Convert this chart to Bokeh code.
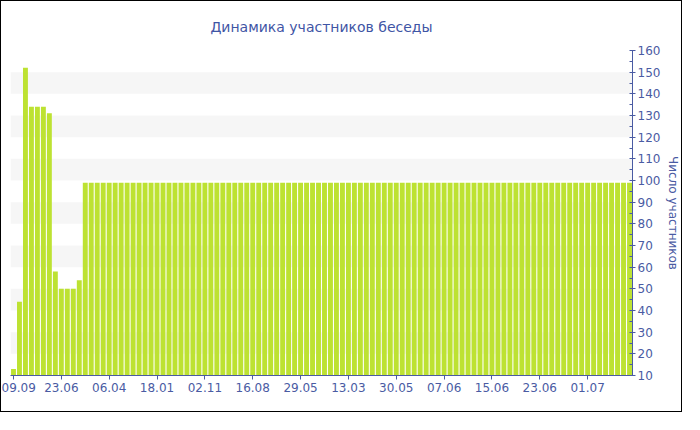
from bokeh.plotting import figure
from bokeh.models import Range1d, FixedTicker
from bokeh.embed import file_html
from bokeh.resources import INLINE

# Data
values = [13, 44, 152, 134, 134, 134, 131, 58, 50, 50, 50, 54] + [99] * 92
tick_labels = ["09.09", "23.06", "06.04", "18.01", "02.11", "16.08", "29.05",
               "13.03", "30.05", "07.06", "15.06", "23.06", "01.07"]
tick_step = 8
title_text = "Динамика участников беседы"
y_label = "Число участников"

idx = list(range(len(values)))
tick_pos = list(range(0, len(tick_labels) * tick_step, tick_step))

FONT = "DejaVu Sans"
TXT = "#4a5ba3"
AX = "#4a5ba3"

p = figure(width=682, height=412, output_backend="svg", toolbar_location=None,
           x_range=Range1d(-0.5, len(values) - 0.5), y_range=Range1d(10, 160),
           min_border_left=9, min_border_right=46, min_border_top=48,
           min_border_bottom=38, y_axis_location="right")
p.styles = {"border": "1px solid black"}
p.outline_line_color = None
p.background_fill_color = "white"
p.border_fill_color = "white"

p.title.text = title_text
p.title.align = "center"
p.title.text_font = FONT
p.title.text_font_size = "14px"
p.title.text_font_style = "normal"
p.title.text_color = "#3f55a5"
p.title.standoff = 31

p.vbar(x=idx, top=values, bottom=0, width=0.82, fill_color="#bde232",
       line_color=None)

# x axis
xa = p.xaxis[0]
xa.ticker = FixedTicker(ticks=tick_pos)
xa.major_label_overrides = {pos: lab for pos, lab in zip(tick_pos, tick_labels)}
xa.major_tick_in = 0
xa.major_tick_out = 4
xa.minor_tick_line_color = None
xa.axis_line_color = AX
xa.major_tick_line_color = AX
xa.major_label_text_font = FONT
xa.major_label_text_font_size = "12px"
xa.major_label_text_color = TXT
xa.major_label_standoff = 3

# y axis (right)
ya = p.yaxis[0]
ya.ticker = FixedTicker(ticks=list(range(10, 161, 10)),
                        minor_ticks=list(range(15, 160, 10)))
ya.major_tick_in = 3
ya.major_tick_out = 3
ya.minor_tick_in = 3
ya.minor_tick_out = 0
ya.axis_line_color = AX
ya.major_tick_line_color = AX
ya.minor_tick_line_color = AX
ya.major_label_text_font = FONT
ya.major_label_text_font_size = "12px"
ya.major_label_text_color = TXT
ya.major_label_standoff = 2
ya.axis_label = y_label
ya.axis_label_text_font = FONT
ya.axis_label_text_font_size = "12px"
ya.axis_label_text_font_style = "normal"
ya.axis_label_text_color = TXT
ya.axis_label_standoff = 3

p.xgrid.grid_line_color = None
p.ygrid.grid_line_color = None
p.ygrid.ticker = FixedTicker(ticks=list(range(10, 161, 10)))
p.ygrid.band_fill_color = "#f4f4f4"
p.ygrid.band_fill_alpha = 0.8

open("out.html", "w").write(file_html(p, INLINE))
